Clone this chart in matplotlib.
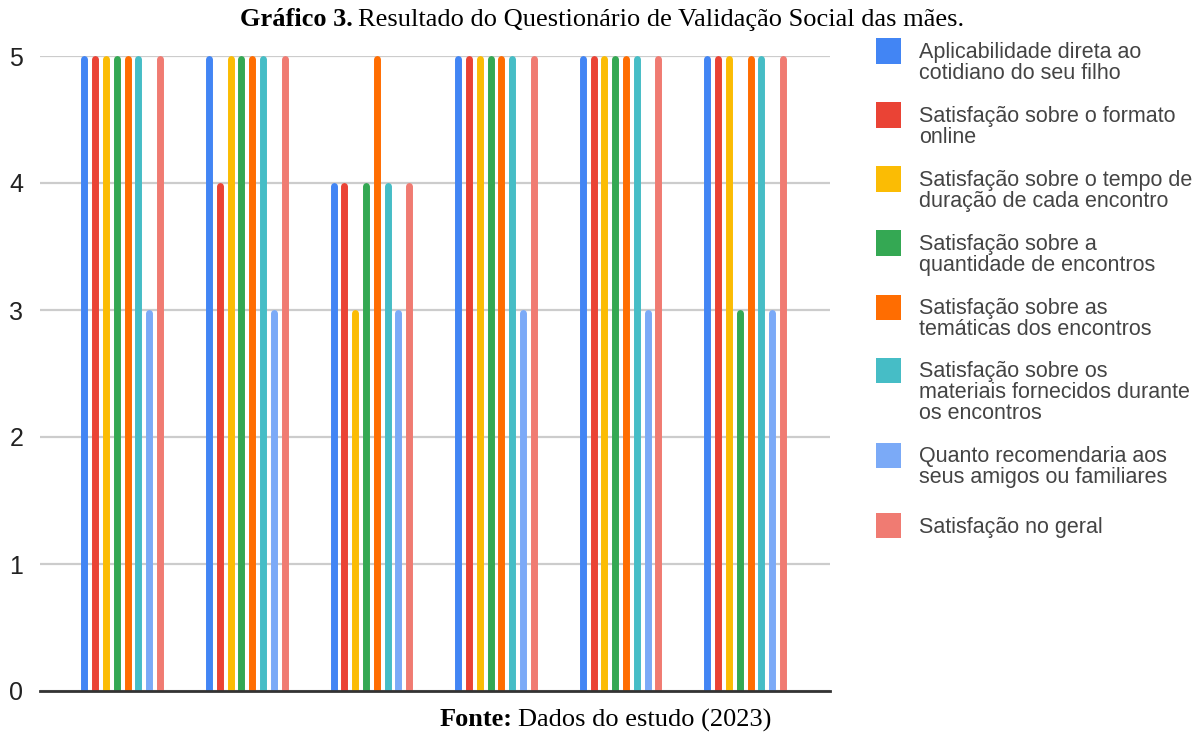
import matplotlib.pyplot as plt
from matplotlib.patches import Rectangle
import numpy as np

plt.rcParams['font.family'] = ['Liberation Sans', 'DejaVu Sans']

series = [
    "Aplicabilidade direta ao\ncotidiano do seu filho",
    "Satisfação sobre o formato\nonline",
    "Satisfação sobre o tempo de\nduração de cada encontro",
    "Satisfação sobre a\nquantidade de encontros",
    "Satisfação sobre as\ntemáticas dos encontros",
    "Satisfação sobre os\nmateriais fornecidos durante\nos encontros",
    "Quanto recomendaria aos\nseus amigos ou familiares",
    "Satisfação no geral",
]
colors = ["#4285f4", "#ea4335", "#fbbc04", "#34a853",
          "#ff6d01", "#46bdc6", "#7baaf7", "#f07b72"]

# one row per participant (6), one column per question (8)
scores = np.array([
    [5, 5, 5, 5, 5, 5, 3, 5],
    [5, 4, 5, 5, 5, 5, 3, 5],
    [4, 4, 3, 4, 5, 4, 3, 4],
    [5, 5, 5, 5, 5, 5, 3, 5],
    [5, 5, 5, 5, 5, 5, 3, 5],
    [5, 5, 5, 3, 5, 5, 3, 5],
])

W, H = 1195, 735
fig = plt.figure(figsize=(W / 100, H / 100), dpi=100)
ax = fig.add_axes([40/W, 1 - 691/H, 790/W, 635/H])

n_groups, n_series = scores.shape
step = 0.0867
lw = 5.0  # points
# rounded cap adds half a line width above the end point
cap = (lw / 2) * (100 / 72) / 127.0
groups = np.arange(n_groups)
for j in range(n_series):
    xs = groups + (j - (n_series - 1) / 2) * step
    ax.vlines(xs, -1, scores[:, j] - cap, colors=colors[j],
              linewidth=lw, capstyle='round', zorder=3)

ax.set_xlim(-0.66, 5.68)
ax.set_ylim(0, 5)
ax.set_yticks(range(6))
ax.set_xticks([])
ax.yaxis.grid(True, color="#cccccc", linewidth=1.6)
ax.set_axisbelow(True)
for s in ["top", "right", "left"]:
    ax.spines[s].set_visible(False)
ax.spines["bottom"].set_color("#333333")
ax.spines["bottom"].set_linewidth(2)
ax.spines["bottom"].set_zorder(4)
ax.tick_params(axis="y", length=0, pad=12, labelsize=18, labelcolor="#222222")

renderer = fig.canvas.get_renderer()


def bold_then_plain(x, y, bold, plain, size):
    t = fig.text(x / W, 1 - y / H, bold, family="Liberation Serif",
                 fontsize=size, fontweight="bold", va="center", ha="left")
    bb = t.get_window_extent(renderer)
    fig.text(bb.x1 / W + 5 / W, 1 - y / H, plain, family="Liberation Serif",
             fontsize=size, va="center", ha="left")


bold_then_plain(240, 20, "Gráfico 3.",
                "Resultado do Questionário de Validação Social das mães.", 19)
bold_then_plain(440, 720, "Fonte:", "Dados do estudo (2023)", 19)

# legend drawn by hand on the right
entry_y = [62, 126, 190, 254, 318, 392, 466, 526]
line_h = 21
for lab, col, yc in zip(series, colors, entry_y):
    nlines = lab.count("\n") + 1
    top = yc - line_h / 2 * (nlines - 1)
    fig.patches.append(Rectangle((876/W, 1 - (top + 12)/H), 25/W, 25/H,
                                 transform=fig.transFigure, facecolor=col,
                                 edgecolor="none"))
    fig.text(919/W, 1 - (top - line_h / 2 + 1)/H, lab, fontsize=15.5,
             color="#444444", va="top", ha="left", linespacing=0.98)

fig.savefig("out.png", dpi=100)
